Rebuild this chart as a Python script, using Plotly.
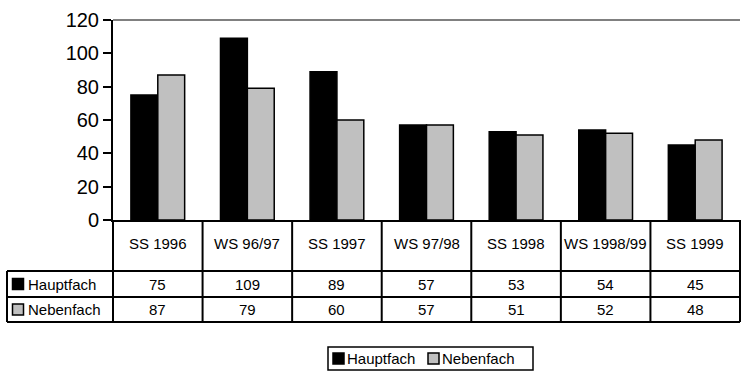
import plotly.graph_objects as go

# Semesters and enrolment counts per subject type
semesters = ["SS 1996", "WS 96/97", "SS 1997", "WS 97/98", "SS 1998", "WS 1998/99", "SS 1999"]
series_names = ["Hauptfach", "Nebenfach"]
hauptfach = [75, 109, 89, 57, 53, 54, 45]
nebenfach = [87, 79, 60, 57, 51, 52, 48]
y_ticks = [0, 20, 40, 60, 80, 100, 120]

W, H = 741, 376
L, R, T, B = 113, 740, 20, 220          # plot area in pixels
PW, PH = R - L, B - T

FONT = "Liberation Sans, Arial, sans-serif"
FILLS = ["#000000", "#c0c0c0"]


def px(x):
    return (x - L) / PW


def py(y):
    return (B - y) / PH


fig = go.Figure()
for name, vals, col in zip(series_names, [hauptfach, nebenfach], FILLS):
    fig.add_bar(x=semesters, y=vals, name=name, marker_color=col,
                marker_line_color="#000000", marker_line_width=1.5,
                showlegend=False)

shapes = []
annotations = []

# gray frame line across the top of the plot area
shapes.append(dict(type="line", xref="paper", yref="paper", x0=0, x1=1, y0=1, y1=1,
                   line=dict(color="#808080", width=2)))

# data table underneath the chart
row_lines = [271, 297, 322]
col_w = PW / len(semesters)
line_style = dict(color="#000000", width=2)
for yl in row_lines:
    shapes.append(dict(type="line", xref="paper", yref="paper",
                       x0=px(7), x1=px(R), y0=py(yl), y1=py(yl), line=line_style))
for i in range(len(semesters) + 1):
    xl = L + i * col_w
    shapes.append(dict(type="line", xref="paper", yref="paper",
                       x0=px(xl), x1=px(xl), y0=py(B), y1=py(row_lines[-1]), line=line_style))
shapes.append(dict(type="line", xref="paper", yref="paper",
                   x0=px(7), x1=px(7), y0=py(row_lines[0]), y1=py(row_lines[-1]), line=line_style))

text_font = dict(family=FONT, size=15, color="#000000")
for i, sem in enumerate(semesters):
    cx = px(L + (i + 0.5) * col_w)
    annotations.append(dict(x=cx, y=py(243), xref="paper", yref="paper", text=sem,
                            showarrow=False, font=text_font, xanchor="center", yanchor="middle"))
    for r, vals in enumerate([hauptfach, nebenfach]):
        yc = (row_lines[r] + row_lines[r + 1]) / 2
        annotations.append(dict(x=cx, y=py(yc), xref="paper", yref="paper", text=str(vals[i]),
                                showarrow=False, font=text_font, xanchor="center", yanchor="middle"))

# row headers with colour keys
for r, (name, col) in enumerate(zip(series_names, FILLS)):
    yc = (row_lines[r] + row_lines[r + 1]) / 2
    shapes.append(dict(type="rect", xref="paper", yref="paper",
                       x0=px(12.5), x1=px(23.5), y0=py(yc - 5.5), y1=py(yc + 5.5),
                       fillcolor=col, line=dict(color="#000000", width=1.5)))
    annotations.append(dict(x=px(26), y=py(yc), xref="paper", yref="paper", text=name,
                            showarrow=False, font=text_font, xanchor="left", yanchor="middle"))

# legend box below the table
shapes.append(dict(type="rect", xref="paper", yref="paper",
                   x0=px(328), x1=px(533), y0=py(347), y1=py(370),
                   fillcolor="rgba(0,0,0,0)", line=dict(color="#000000", width=1.5)))
legend_x = [333, 428]
for name, col, lx in zip(series_names, FILLS, legend_x):
    shapes.append(dict(type="rect", xref="paper", yref="paper",
                       x0=px(lx), x1=px(lx + 11), y0=py(353), y1=py(364),
                       fillcolor=col, line=dict(color="#000000", width=1.5)))
    annotations.append(dict(x=px(lx + 12), y=py(358.5), xref="paper", yref="paper", text=name,
                            showarrow=False, font=text_font, xanchor="left", yanchor="middle"))

fig.update_layout(
    width=W, height=H,
    margin=dict(l=L, r=W - R, t=T, b=H - B, pad=0),
    paper_bgcolor="#ffffff", plot_bgcolor="#ffffff",
    barmode="group", bargap=0.4, bargroupgap=0,
    shapes=shapes, annotations=annotations,
    font=dict(family=FONT, color="#000000"),
    xaxis=dict(showticklabels=False, ticks="", showgrid=False, showline=True,
               linecolor="#000000", linewidth=2, zeroline=False, fixedrange=True),
    yaxis=dict(range=[0, 120], tickvals=y_ticks, ticks="outside", ticklen=8,
               tickwidth=2, tickcolor="#000000", showline=True, linecolor="#000000",
               linewidth=2, showgrid=False, zeroline=False,
               tickfont=dict(family=FONT, size=20, color="#000000"), fixedrange=True),
)

fig.write_html("out.html", config={"displayModeBar": False})
